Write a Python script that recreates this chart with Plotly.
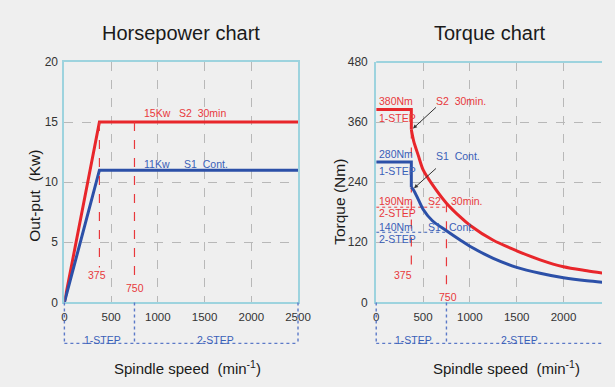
import plotly.graph_objects as go

# ---------------- data ----------------
hp_speed = [0, 375, 2500]
hp_s2 = [0, 15, 15]
hp_s1 = [0, 11, 11]

tq_flat_speed = [0, 375, 375]
tq_s2_flat = [385, 385, 345]
tq_s1_flat = [280, 280, 230]

tq_speed = [375, 400, 450, 500, 600, 750, 900, 1000, 1250, 1500, 1750, 2000, 2250, 2500]
tq_s2 = [345, 322, 293, 265, 235, 198, 170, 154, 124, 103, 85, 71, 63, 56]
tq_s1 = [230, 224, 205, 186, 163, 143, 124, 112, 88, 70, 58, 49, 43, 39]

base_speed = 375
step_speed = 750
max_speed = 2500
hp_ticks = [0, 5, 10, 15, 20]
tq_ticks = [0, 120, 240, 360, 480]
x_ticks = [0, 500, 1000, 1500, 2000, 2500]
s2_step2_torque = 190
s1_step2_torque = 140

# ---------------- style ----------------
RED = "#e8262b"
BLUE = "#2c50a8"
RED_T = "#e8383c"
BLUE_T = "#3a60b8"
BORDER = "#9dd3de"
GRID = "#b8b8b8"
BG = "#efefef"
FONT = "Liberation Sans, Arial, sans-serif"
W, H = 615, 387
x2_max = 2411


# map picture pixel positions to paper pixel positions (capture is slightly inset)
def px(s):
    return min(W, (s - 2.2) / 0.9964)


def py(s):
    return (s - 8.4) / 0.958


def fx(s):
    return px(s) / W


def fy(s):
    return 1 - py(s) / H


fig = go.Figure()

# Horsepower chart
fig.add_trace(go.Scatter(x=hp_speed, y=hp_s2, mode="lines",
                         line=dict(color=RED, width=3), xaxis="x", yaxis="y"))
fig.add_trace(go.Scatter(x=hp_speed, y=hp_s1, mode="lines",
                         line=dict(color=BLUE, width=3), xaxis="x", yaxis="y"))
fig.add_trace(go.Scatter(x=[base_speed, base_speed], y=[hp_s2[1], 2.9], mode="lines",
                         line=dict(color=RED_T, width=1.2, dash="dash"), xaxis="x", yaxis="y"))
fig.add_trace(go.Scatter(x=[step_speed, step_speed], y=[hp_s2[1], 1.8], mode="lines",
                         line=dict(color=RED_T, width=1.2, dash="dash"), xaxis="x", yaxis="y"))

# Torque chart
fig.add_trace(go.Scatter(x=[0, step_speed], y=[s2_step2_torque] * 2, mode="lines",
                         line=dict(color=RED_T, width=1, dash="dot"), xaxis="x2", yaxis="y2"))
fig.add_trace(go.Scatter(x=[0, step_speed], y=[s1_step2_torque] * 2, mode="lines",
                         line=dict(color=BLUE_T, width=1, dash="dot"), xaxis="x2", yaxis="y2"))
fig.add_trace(go.Scatter(x=[base_speed, base_speed], y=[tq_s2_flat[2], 70], mode="lines",
                         line=dict(color=RED_T, width=1.2, dash="dash"), xaxis="x2", yaxis="y2"))
fig.add_trace(go.Scatter(x=[step_speed, step_speed], y=[tq_s2[5], 30], mode="lines",
                         line=dict(color=RED_T, width=1.2, dash="dash"), xaxis="x2", yaxis="y2"))
fig.add_trace(go.Scatter(x=tq_flat_speed, y=tq_s2_flat, mode="lines",
                         line=dict(color=RED, width=3), xaxis="x2", yaxis="y2"))
fig.add_trace(go.Scatter(x=tq_speed, y=tq_s2, mode="lines",
                         line=dict(color=RED, width=3, shape="spline", smoothing=0.8), xaxis="x2", yaxis="y2"))
fig.add_trace(go.Scatter(x=tq_flat_speed, y=tq_s1_flat, mode="lines",
                         line=dict(color=BLUE, width=3), xaxis="x2", yaxis="y2"))
fig.add_trace(go.Scatter(x=tq_speed, y=tq_s1, mode="lines",
                         line=dict(color=BLUE, width=3, shape="spline", smoothing=0.8), xaxis="x2", yaxis="y2"))

ydom = [fy(302), fy(63)]
axis_common = dict(showgrid=True, gridcolor=GRID, griddash="dash", gridwidth=1,
                   zeroline=False, showline=True, linecolor=BORDER, linewidth=2,
                   ticks="outside", tickcolor="rgba(0,0,0,0)")
xtick_font = dict(family=FONT, size=11.5, color="#333")
ytick_font = dict(family=FONT, size=12, color="#333")

fig.update_layout(
    width=W, height=H, margin=dict(l=0, r=0, t=0, b=0),
    paper_bgcolor=BG, plot_bgcolor=BG, showlegend=False,
    font=dict(family=FONT, color="#222"),
    xaxis=dict(domain=[fx(65), fx(304)], range=[0, max_speed], tickvals=x_ticks,
               mirror=True, ticklen=3, tickfont=xtick_font, **axis_common),
    yaxis=dict(domain=ydom, range=[0, 20], tickvals=hp_ticks, mirror=True,
               ticklen=2, anchor="x", tickfont=ytick_font, **axis_common),
    xaxis2=dict(domain=[fx(384), 1.0], range=[0, x2_max], tickvals=x_ticks,
                ticklen=3, anchor="y2", tickfont=xtick_font, **axis_common),
    yaxis2=dict(domain=ydom, range=[0, 480], tickvals=tq_ticks, ticklen=4,
                anchor="x2", tickfont=ytick_font, **axis_common),
)

shapes = []
# top border of torque chart (right side cut off)
shapes.append(dict(type="line", xref="x2 domain", yref="y2 domain", x0=0, x1=1, y0=1, y1=1,
                   line=dict(color=BORDER, width=2)))
# step boxes below axes
box_bottom = -(342.7 - 302) / (302 - 63)
box = dict(color="#5b79c8", width=1.4, dash="dot")
for xr, yr, xmax in (("x domain", "y domain", max_speed), ("x2 domain", "y2 domain", x2_max)):
    for v in (0, step_speed, max_speed):
        f = v / xmax
        if f <= 1.0:
            shapes.append(dict(type="line", xref=xr, yref=yr, x0=f, x1=f, y0=0, y1=box_bottom, line=box))
    shapes.append(dict(type="line", xref=xr, yref=yr, x0=0, x1=min(1.0, max_speed / xmax),
                       y0=box_bottom, y1=box_bottom, line=box))
fig.update_layout(shapes=shapes)

ann = []


def txt(x, y, t, color, xref="x", yref="y", size=10.5, xanchor="left"):
    ann.append(dict(x=x, y=y, xref=xref, yref=yref, text=t, showarrow=False,
                    xanchor=xanchor, yanchor="middle",
                    font=dict(family=FONT, size=size, color=color)))


nb = "\u00a0"
# titles
txt(fx(184.5), fy(34), "Horsepower chart", "#1a1a1a", "paper", "paper", 20, "center")
txt(fx(500), fy(34), "Torque chart", "#1a1a1a", "paper", "paper", 20, "center")
# axis titles
txt(fx(191), fy(366.5), f"Spindle speed{nb}{nb}(min<sup>-1</sup>)", "#1a1a1a", "paper", "paper", 15, "center")
txt(fx(517), fy(366.5), f"Spindle speed{nb}{nb}(min<sup>-1</sup>)", "#1a1a1a", "paper", "paper", 15, "center")
ann.append(dict(x=fx(35), y=fy(196), xref="paper", yref="paper", text=f"Out-put{nb}{nb}(Kw)",
                xanchor="center", yanchor="middle",
                showarrow=False, textangle=-90, font=dict(family=FONT, size=15.5, color="#1a1a1a")))
ann.append(dict(x=fx(347), y=fy(202), xref="paper", yref="paper", text="Torque (Nm)",
                xanchor="center", yanchor="middle",
                showarrow=False, textangle=-90, font=dict(family=FONT, size=15.5, color="#1a1a1a")))

# horsepower labels
txt(830, 15.75, f"15Kw{nb}{nb}{nb}S2{nb}{nb}30min", RED_T)
txt(830, 11.5, f"11Kw{nb}{nb}{nb}{nb}{nb}S1{nb}{nb}Cont.", BLUE_T)
txt(346, 2.3, "375", RED_T, xanchor="center")
txt(752, 1.2, "750", RED_T, xanchor="center")

# step labels
txt(410, box_bottom + 0.015, "1-STEP", BLUE_T, "x", "y domain", 10.5, "center")
txt(1620, box_bottom + 0.015, "2-STEP", BLUE_T, "x", "y domain", 10.5, "center")
txt(402, box_bottom + 0.015, "1-STEP", BLUE_T, "x2", "y2 domain", 10.5, "center")
txt(1527, box_bottom + 0.015, "2-STEP", BLUE_T, "x2", "y2 domain", 10.5, "center")

# torque labels
txt(5, 402, "380Nm", RED_T, "x2", "y2")
txt(5, 369, "1-STEP", RED_T, "x2", "y2")
txt(5, 296, "280Nm", BLUE_T, "x2", "y2")
txt(5, 263, "1-STEP", BLUE_T, "x2", "y2")
txt(5, 202, "190Nm", RED_T, "x2", "y2")
txt(5, 178, "2-STEP", RED_T, "x2", "y2")
txt(5, 150, "140Nm", BLUE_T, "x2", "y2")
txt(5, 127, "2-STEP", BLUE_T, "x2", "y2")
txt(616, 402, f"S2{nb}{nb}30min.", RED_T, "x2", "y2")
txt(616, 293, f"S1{nb}{nb}Cont.", BLUE_T, "x2", "y2")
txt(532, 202, "S2", RED_T, "x2", "y2")
txt(772, 202, "30min.", RED_T, "x2", "y2")
txt(532, 150, "S1", BLUE_T, "x2", "y2")
txt(752, 150, "Cont.", BLUE_T, "x2", "y2")
txt(282, 55, "375", RED_T, "x2", "y2", 10.5, "center")
txt(767, 10, "750", RED_T, "x2", "y2", 10.5, "center")

# arrows
for tip, tail in (((393, 347), (654, 392)), ((404, 228), (654, 270))):
    ann.append(dict(x=tip[0], y=tip[1], ax=tail[0], ay=tail[1], xref="x2", yref="y2",
                    axref="x2", ayref="y2", text="", showarrow=True, arrowhead=2,
                    arrowsize=0.8, arrowwidth=1, arrowcolor="#333"))

fig.update_layout(annotations=ann)
fig.write_html("out.html")
